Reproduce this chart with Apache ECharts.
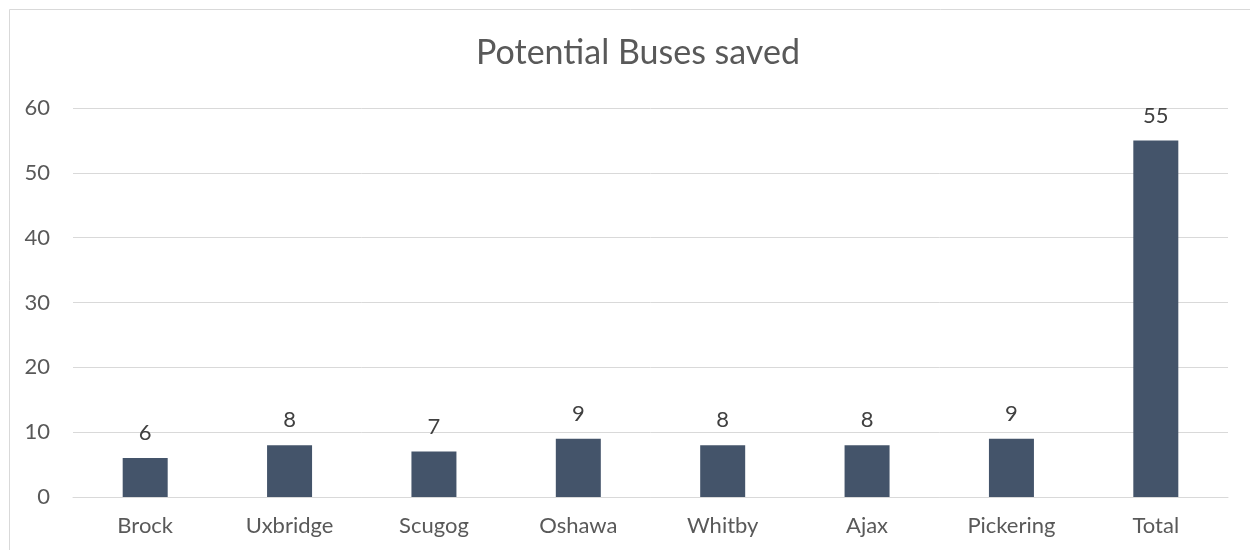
<!DOCTYPE html>
<html>
<head>
<meta charset="utf-8">
<script src="https://cdn.jsdelivr.net/npm/echarts@6/dist/echarts.min.js"></script>
<style>
html,body{margin:0;padding:0;background:#fff;}
#chart{width:1250px;height:550px;}
</style>
</head>
<body>
<div id="chart"></div>
<script>
const categories = ['Brock', 'Uxbridge', 'Scugog', 'Oshawa', 'Whitby', 'Ajax', 'Pickering', 'Total'];
const busesSaved = [6, 8, 7, 9, 8, 8, 9, 55];
const yTicks = [0, 10, 20, 30, 40, 50, 60];

const FONT = 'Lato';
const TXT = '#595959';
const chart = echarts.init(document.getElementById('chart'), null, {renderer: 'canvas'});
chart.setOption({
  backgroundColor: '#ffffff',
  animation: false,
  graphic: [{
    type: 'rect',
    shape: {x: 9.5, y: 9.5, width: 1260, height: 600},
    style: {fill: 'none', stroke: '#D9D9D9', lineWidth: 1},
    silent: true
  }],
  title: {
    text: 'Potential Buses saved',
    left: 633,
    top: 31,
    textAlign: 'center',
    textStyle: {fontFamily: FONT, fontSize: 34, fontWeight: 'normal', color: TXT}
  },
  grid: {left: 73, right: 22, top: 108, bottom: 53, containLabel: false},
  xAxis: {
    type: 'category',
    data: categories,
    axisLine: {show: true, lineStyle: {color: '#D9D9D9', width: 1}},
    axisTick: {show: false},
    axisLabel: {fontFamily: FONT, fontSize: 22, color: TXT, margin: 18}
  },
  yAxis: {
    type: 'value',
    min: yTicks[0],
    max: yTicks[yTicks.length - 1],
    interval: 10,
    axisLine: {show: false},
    axisTick: {show: false},
    splitLine: {lineStyle: {color: '#D9D9D9', width: 1}},
    axisLabel: {fontFamily: FONT, fontSize: 22, color: TXT, margin: 23}
  },
  series: [{
    type: 'bar',
    data: busesSaved,
    barWidth: 45,
    itemStyle: {color: '#44546A'},
    label: {
      show: true,
      position: 'top',
      distance: 14,
      fontFamily: FONT,
      fontSize: 22,
      color: '#404040'
    }
  }]
});
</script>
</body>
</html>
